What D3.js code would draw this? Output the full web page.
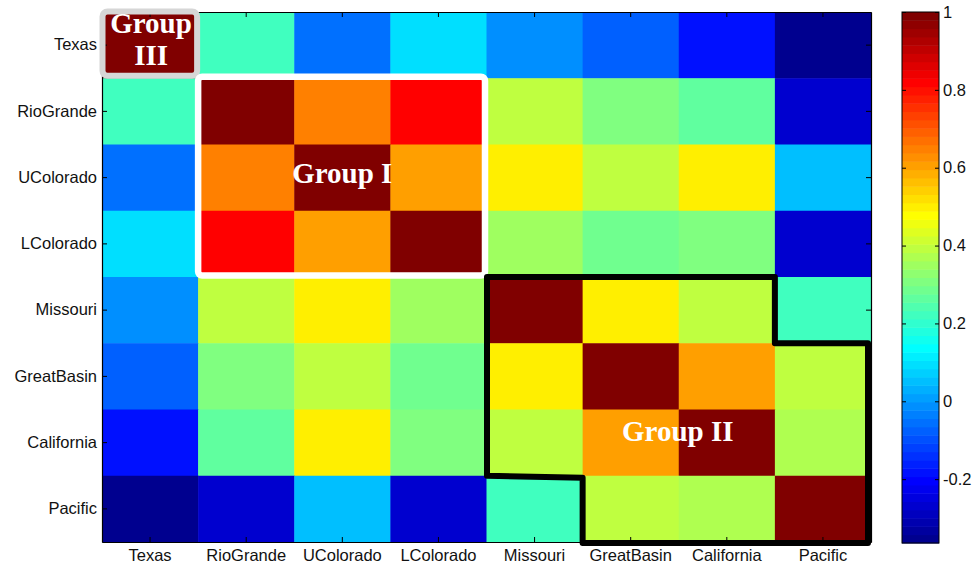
<!DOCTYPE html>
<html>
<head>
<meta charset="utf-8">
<script src="https://cdn.jsdelivr.net/npm/d3@7"></script>
<style>
html,body{margin:0;padding:0;background:#fff;}
svg{display:block;}
</style>
</head>
<body>
<svg id="chart" width="975" height="567"></svg>
<script>
// ---- data ----
const regions = ["Texas","RioGrande","UColorado","LColorado","Missouri","GreatBasin","California","Pacific"];
// upper triangle of the symmetric correlation matrix (row i, columns i..7)
const rowTexas      = [1.00, 0.222, -0.055, 0.094, -0.012, -0.076, -0.183, -0.355];
const rowRioGrande  = [1.00, 0.648, 0.818, 0.393, 0.307, 0.265, -0.27];
const rowUColorado  = [1.00, 0.615, 0.50, 0.393, 0.50, 0.052];
const rowLColorado  = [1.00, 0.35, 0.286, 0.307, -0.27];
const rowMissouri   = [1.00, 0.50, 0.393, 0.222];
const rowGreatBasin = [1.00, 0.615, 0.393];
const rowCalifornia = [1.00, 0.372];
const rowPacific    = [1.00];
const upperRows = [rowTexas,rowRioGrande,rowUColorado,rowLColorado,rowMissouri,rowGreatBasin,rowCalifornia,rowPacific];
const colorLimits = [-0.364, 1];
const colorbarTicks = [-0.2, 0, 0.2, 0.4, 0.6, 0.8, 1];
const colorbarTickLabels = ["-0.2","0","0.2","0.4","0.6","0.8","1"];
const groupLabels = ["Group III","Group I","Group II"];

// ---- build cells ----
const cells = [];
regions.forEach((r, i) => {
  regions.forEach((c, j) => {
    const v = j >= i ? upperRows[i][j - i] : upperRows[j][i - j];
    cells.push({row: r, col: c, value: v});
  });
});

// MATLAB jet(64)
function jet64() {
  const m = 64, n = 16;
  const u = [];
  for (let j = 1; j <= n; j++) u.push(j / n);
  for (let j = 1; j <= n - 1; j++) u.push(1);
  for (let j = n; j >= 1; j--) u.push(j / n);
  const at = idx => (idx >= 1 && idx <= u.length) ? u[idx - 1] : 0;
  const out = [];
  for (let k = 1; k <= m; k++) {
    out.push(d3.rgb(Math.round(255 * at(k - 24)), Math.round(255 * at(k - 8)), Math.round(255 * at(k + 8))).formatHex());
  }
  return out;
}
const cmap = jet64();
const color = v => {
  let k = Math.floor((v - colorLimits[0]) / (colorLimits[1] - colorLimits[0]) * cmap.length);
  k = Math.max(0, Math.min(cmap.length - 1, k));
  return cmap[k];
};

// ---- layout ----
const svg = d3.select("#chart");
const plot = {left: 102, top: 12, right: 871, bottom: 542};
const cb = {left: 902, right: 939, top: 12, bottom: 543};
const fontSans = "'Liberation Sans', Arial, Helvetica, sans-serif";
const fontSerif = "'Liberation Serif', 'Times New Roman', serif";

const x = d3.scaleBand().domain(regions).range([plot.left, plot.right]);
const y = d3.scaleBand().domain(regions).range([plot.top, plot.bottom]);

// heatmap cells
svg.append("g").selectAll("rect").data(cells).join("rect")
  .attr("x", d => x(d.col))
  .attr("y", d => y(d.row))
  .attr("width", x.bandwidth() + 0.5)
  .attr("height", y.bandwidth() + 0.5)
  .attr("fill", d => color(d.value));

// axes (inward ticks)
function styleAxis(g) {
  g.selectAll(".domain").attr("stroke", "#000").attr("stroke-width", 1.2);
  g.selectAll(".tick line").attr("stroke", "#000").attr("stroke-width", 1);
  g.selectAll("text").attr("fill", "#111").style("font-family", fontSans).style("font-size", "16.5px");
}
svg.append("g").attr("transform", `translate(${plot.left},0)`)
  .call(d3.axisLeft(y).tickSize(-5).tickSizeOuter(0).tickPadding(5)).call(styleAxis);
svg.append("g").attr("transform", `translate(0,${plot.bottom})`)
  .call(d3.axisBottom(x).tickSize(-5).tickSizeOuter(0).tickPadding(7)).call(styleAxis);
svg.append("g").attr("transform", `translate(0,${plot.top})`)
  .call(d3.axisTop(x).tickSize(-5).tickSizeOuter(0).tickFormat("")).call(styleAxis);
svg.append("g").attr("transform", `translate(${plot.right},0)`)
  .call(d3.axisRight(y).tickSize(-5).tickSizeOuter(0).tickFormat("")).call(styleAxis);

// ---- group outlines ----
const bw = x.bandwidth(), bh = y.bandwidth();
// Group III (light gray)
svg.append("rect")
  .attr("x", x("Texas") + 0.5).attr("y", y("Texas") - 0.5)
  .attr("width", bw - 1.5).attr("height", bh - 2)
  .attr("rx", 5).attr("ry", 5)
  .attr("fill", "none").attr("stroke", "#d6d6d6").attr("stroke-width", 6);
// Group I (white)
svg.append("rect")
  .attr("x", x("RioGrande")).attr("y", y("RioGrande") - 1.5)
  .attr("width", x("Missouri") - x("RioGrande") - 1.5).attr("height", y("Missouri") - y("RioGrande"))
  .attr("rx", 4).attr("ry", 4)
  .attr("fill", "none").attr("stroke", "#fff").attr("stroke-width", 6.5);
// Group II (black polygon)
const g2 = [
  [x("Missouri") + 0.5, y("Missouri")],
  [x("Pacific"), y("Missouri")],
  [x("Pacific"), y("GreatBasin")],
  [plot.right - 3, y("GreatBasin")],
  [plot.right - 3, plot.bottom + 1],
  [x("GreatBasin"), plot.bottom + 1],
  [x("GreatBasin"), y("Pacific") + 2],
  [x("Missouri") + 0.5, y("Pacific")]
];
svg.append("path")
  .attr("d", d3.line()(g2) + "Z")
  .attr("fill", "none").attr("stroke", "#000").attr("stroke-width", 6)
  .attr("stroke-linejoin", "round");

// ---- group labels ----
const lab = svg.append("g").attr("fill", "#fff").style("font-family", fontSerif)
  .style("font-weight", "bold").style("font-size", "29px").attr("text-anchor", "middle");
const g3 = lab.append("text").attr("x", x("Texas") + bw / 2 + 1);
g3.append("tspan").attr("x", x("Texas") + bw / 2 + 1).attr("y", 33).text(groupLabels[0].split(" ")[0]);
g3.append("tspan").attr("x", x("Texas") + bw / 2 + 1).attr("y", 65).text(groupLabels[0].split(" ")[1]);
lab.append("text").attr("x", x("UColorado") + bw / 2).attr("y", y("UColorado") + bh / 2 + 5).text(groupLabels[1]);
lab.append("text").attr("x", x("California") - 1).attr("y", y("California") + bh / 2 - 2).text(groupLabels[2]);

// ---- colorbar ----
const cy = d3.scaleLinear().domain(colorLimits).range([cb.bottom, cb.top]);
const step = (colorLimits[1] - colorLimits[0]) / cmap.length;
svg.append("g").selectAll("rect").data(cmap).join("rect")
  .attr("x", cb.left)
  .attr("y", (c, i) => cy(colorLimits[0] + (i + 1) * step))
  .attr("width", cb.right - cb.left)
  .attr("height", (c, i) => cy(colorLimits[0] + i * step) - cy(colorLimits[0] + (i + 1) * step) + 0.5)
  .attr("fill", c => c);
svg.append("rect").attr("x", cb.left).attr("y", cb.top)
  .attr("width", cb.right - cb.left).attr("height", cb.bottom - cb.top)
  .attr("fill", "none").attr("stroke", "#000").attr("stroke-width", 1);
const cbAxis = svg.append("g").attr("transform", `translate(${cb.right},0)`)
  .call(d3.axisRight(cy).tickValues(colorbarTicks).tickSize(-4).tickSizeOuter(0).tickPadding(4)
    .tickFormat((d, i) => colorbarTickLabels[i]))
  .call(styleAxis);
cbAxis.select(".domain").remove();
svg.append("g").attr("transform", `translate(${cb.left},0)`)
  .call(d3.axisLeft(cy).tickValues(colorbarTicks).tickSize(-4).tickSizeOuter(0).tickFormat(""))
  .call(styleAxis).select(".domain").remove();
</script>
</body>
</html>
